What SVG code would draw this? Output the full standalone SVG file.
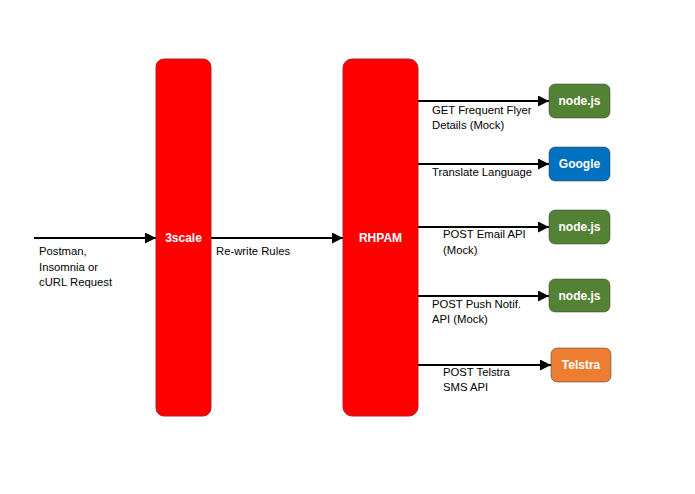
<svg xmlns="http://www.w3.org/2000/svg" width="695" height="494" viewBox="0 0 695 494">
<style>
text{font-family:"Liberation Sans",Arial,sans-serif;font-size:11.3px;fill:#000}
.w{fill:#fff;font-weight:bold;font-size:12px;text-anchor:middle}
.bar{fill:#ff0000;stroke:#b0202a;stroke-width:1}
.box{stroke:#3a3a3a;stroke-opacity:0.5;stroke-width:1}
.c{stroke:#000;stroke-width:2;fill:none;marker-end:url(#a)}
</style>
<defs>
<marker id="a" viewBox="0 0 10 10" refX="10" refY="5" markerWidth="5.5" markerHeight="5.5" orient="auto" markerUnits="strokeWidth">
<path d="M0,0L10,5L0,10Z" fill="#000"/>
</marker>
</defs>
<rect width="695" height="494" fill="#fff"/>
<g id="connectors">
<line class="c" x1="34" y1="238" x2="156" y2="238"/>
<line class="c" x1="211" y1="238" x2="343" y2="238"/>
<line class="c" x1="418" y1="101" x2="549" y2="101"/>
<line class="c" x1="418" y1="164" x2="549" y2="164"/>
<line class="c" x1="418" y1="227" x2="549" y2="227"/>
<line class="c" x1="418" y1="296" x2="549" y2="296"/>
<line class="c" x1="418" y1="365" x2="551" y2="365"/>
<text x="39" y="255">Postman,</text>
<text x="39" y="271">Insomnia or</text>
<text x="39" y="286">cURL Request</text>
<text x="216" y="255">Re-write Rules</text>
<text x="432" y="114">GET Frequent Flyer</text>
<text x="432" y="129">Details (Mock)</text>
<text x="432" y="176">Translate Language</text>
<text x="443" y="238">POST Email API</text>
<text x="443" y="254">(Mock)</text>
<text x="432" y="308">POST Push Notif.</text>
<text x="432" y="323">API (Mock)</text>
<text x="443" y="376">POST Telstra</text>
<text x="443" y="391">SMS API</text>
</g>
<g id="n3scale">
<rect class="bar" x="156" y="59" width="55" height="357" rx="8"/>
<text class="w" x="183.5" y="242">3scale</text>
</g>
<g id="rhpam">
<rect class="bar" x="343" y="59" width="75" height="357" rx="9"/>
<text class="w" x="380.5" y="242">RHPAM</text>
</g>
<g id="node1">
<rect class="box" x="549" y="84" width="61" height="34" rx="6" fill="#548235"/>
<text class="w" x="579.5" y="105">node.js</text>
</g>
<g id="google">
<rect class="box" x="549" y="147" width="61" height="34" rx="6" fill="#0070c0"/>
<text class="w" x="579.5" y="168">Google</text>
</g>
<g id="node2">
<rect class="box" x="549" y="210" width="61" height="34" rx="6" fill="#548235"/>
<text class="w" x="579.5" y="231">node.js</text>
</g>
<g id="node3">
<rect class="box" x="549" y="279" width="61" height="33" rx="6" fill="#548235"/>
<text class="w" x="579.5" y="300">node.js</text>
</g>
<g id="telstra">
<rect class="box" x="551" y="348" width="60" height="34" rx="6" fill="#ed7d31"/>
<text class="w" x="581" y="369">Telstra</text>
</g>
</svg>
